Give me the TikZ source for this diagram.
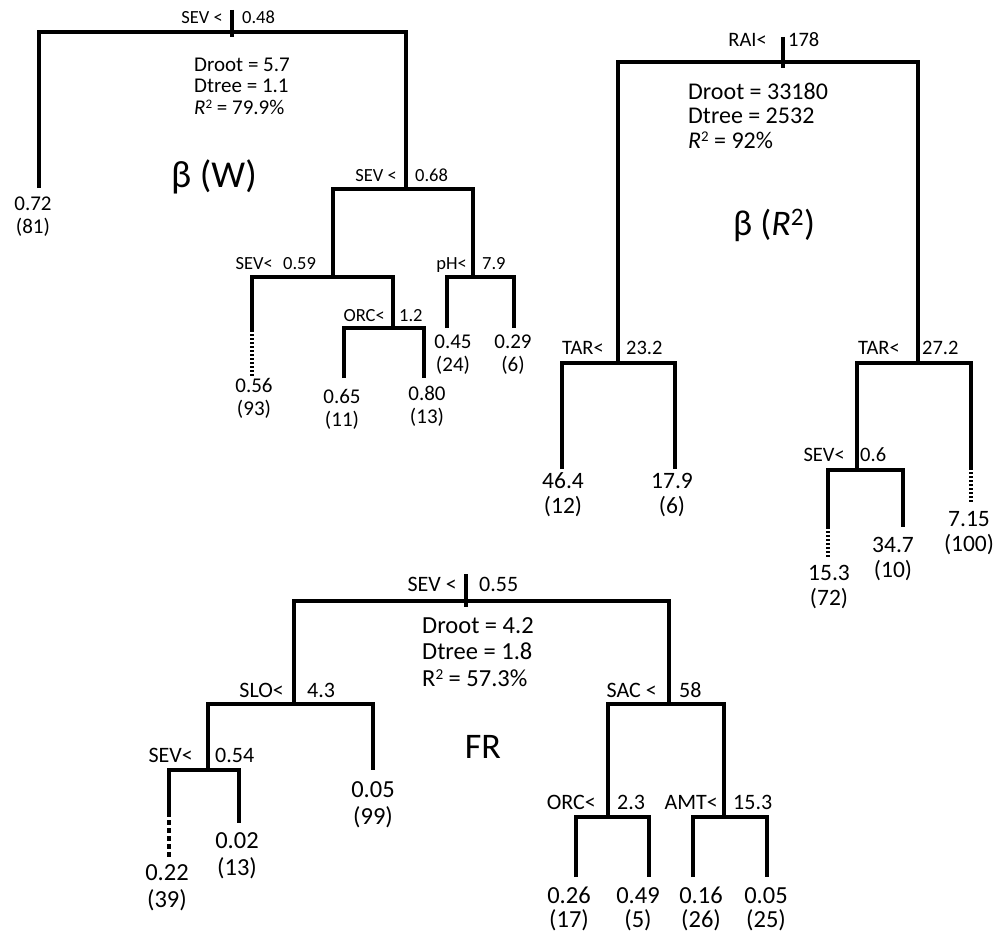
\documentclass[tikz,border=0pt]{standalone}
\usepackage{fontspec}
\setmainfont{Carlito}
\usetikzlibrary{positioning}
\newcommand{\lw}{3.1pt}
\newcommand{\sqd}{\raisebox{0.28em}{\scalebox{0.62}{2}}}

\begin{document}
\begin{tikzpicture}[
        x = 1pt, y = -1pt,
        every node/.style = {inner sep = 0},
        branch/.style = {line width = \lw},
        dotend/.style = {line width = \lw, dash pattern = on 2pt off 2pt},
        dashend/.style = {line width = \lw, dash pattern = on 5pt off 3pt},
        cutW/.style = {font = \fontsize{18.5}{18.5}\selectfont},
        cutR/.style = {font = \fontsize{20.5}{20.5}\selectfont},
        cutF/.style = {font = \fontsize{22}{22}\selectfont},
        leafW/.style = {align = center, anchor = base, yshift = -23.5pt, font = \fontsize{21}{23.5}\selectfont},
        leafR/.style = {align = center, anchor = base, yshift = -25pt, font = \fontsize{23.5}{25}\selectfont},
        leafF/.style = {align = center, anchor = base, yshift = -27pt, font = \fontsize{24.5}{27}\selectfont},
        leafFb/.style = {align = center, anchor = base, yshift = -24pt, font = \fontsize{24.5}{24}\selectfont},
        statW/.style = {align = left, anchor = base west, yshift = -43pt, font = \fontsize{21}{21.5}\selectfont},
        statR/.style = {align = left, anchor = base west, yshift = -49pt, font = \fontsize{24}{24.5}\selectfont},
        statF/.style = {align = left, anchor = base west, yshift = -53pt, font = \fontsize{24.5}{26.5}\selectfont},
        title/.style = {anchor = base west, font = \fontsize{38}{38}\selectfont}]

      \useasboundingbox (0,0) rectangle (997,934);

      %tree one, beta (W)
      \coordinate (BWTickTop) at (232,10);
      \coordinate (BWTickBot) at (232,37);
      \coordinate (BWRoot) at (232,32);
      \coordinate (BWSev2) at (406,189);
      \coordinate (BWSev3) at (333,277);
      \coordinate (BWOrc) at (393,328);
      \coordinate (BWPh) at (473,277);
      \coordinate (BWLeaf1) at (39,188);
      \coordinate (BWLeaf2) at (252,330);
      \coordinate (BWLeaf2Dot) at (252,377);
      \coordinate (BWLeaf3) at (344,378);
      \coordinate (BWLeaf4) at (424,378);
      \coordinate (BWLeaf5) at (447,328);
      \coordinate (BWLeaf6) at (514,328);

      \node[cutW, anchor = base east] (BWRootVar) at (223,24) {SEV <};
      \node[cutW, anchor = base west] (BWRootVal) at (242,24) {0.48};
      \node[cutW, anchor = base east] (BWSev2Var) at (397,181) {SEV <};
      \node[cutW, anchor = base west] (BWSev2Val) at (415,181) {0.68};
      \node[cutW, anchor = base east] (BWSev3Var) at (273,269) {SEV<};
      \node[cutW, anchor = base west] (BWSev3Val) at (283,269) {0.59};
      \node[cutW, anchor = base east] (BWOrcVar) at (385,321) {ORC<};
      \node[cutW, anchor = base west] (BWOrcVal) at (399,321) {1.2};
      \node[cutW, anchor = base east] (BWPhVar) at (467,269) {pH<};
      \node[cutW, anchor = base west] (BWPhVal) at (482,269) {7.9};

      \node[leafW] (BWLeaf1Txt) at (33,210) {0.72\\(81)};
      \node[leafW] (BWLeaf2Txt) at (254,392) {0.56\\(93)};
      \node[leafW] (BWLeaf3Txt) at (342,403) {0.65\\(11)};
      \node[leafW] (BWLeaf4Txt) at (427,400) {0.80\\(13)};
      \node[leafW] (BWLeaf5Txt) at (453,348) {0.45\\(24)};
      \node[leafW] (BWLeaf6Txt) at (513,348) {0.29\\(6)};

      \node[statW] (BWStats) at (194,71) {Droot = 5.7\\Dtree = 1.1\\{\itshape R}\sqd{} = 79.9\%};
      \node[title] (BWTitle) at (171,187) {β (W)};

      \draw[branch] (BWTickTop) -- (BWTickBot);
      \draw[branch] (BWLeaf1) |- (BWRoot) -| (BWSev2);
      \draw[branch] (BWSev3) |- (BWSev2) -| (BWPh);
      \draw[branch] (BWLeaf2) |- (BWSev3) -| (BWOrc);
      \draw[branch] (BWLeaf3) |- (BWOrc) -| (BWLeaf4);
      \draw[branch] (BWLeaf5) |- (BWPh) -| (BWLeaf6);
      \draw[dotend] (BWLeaf2) -- (BWLeaf2Dot);

      %tree two, beta (R2)
      \coordinate (BRTickTop) at (783,37);
      \coordinate (BRTickBot) at (783,68);
      \coordinate (BRRoot) at (783,62);
      \coordinate (BRTarL) at (618,363);
      \coordinate (BRTarR) at (918,363);
      \coordinate (BRSev) at (857,470);
      \coordinate (BRLeaf1) at (562,469);
      \coordinate (BRLeaf2) at (675,469);
      \coordinate (BRLeaf3) at (828,527);
      \coordinate (BRLeaf3Dot) at (828,558);
      \coordinate (BRLeaf4) at (903,527);
      \coordinate (BRLeaf5) at (971,468);
      \coordinate (BRLeaf5Dot) at (971,502);

      \node[cutR, anchor = base east] (BRRootVar) at (767,47) {RAI<};
      \node[cutR, anchor = base west] (BRRootVal) at (788,47) {178};
      \node[cutR, anchor = base east] (BRTarLVar) at (604,354) {TAR<};
      \node[cutR, anchor = base west] (BRTarLVal) at (626,354) {23.2};
      \node[cutR, anchor = base east] (BRTarRVar) at (900,354) {TAR<};
      \node[cutR, anchor = base west] (BRTarRVal) at (922,354) {27.2};
      \node[cutR, anchor = base east] (BRSevVar) at (845,461) {SEV<};
      \node[cutR, anchor = base west] (BRSevVal) at (860,461) {0.6};

      \node[leafR] (BRLeaf1Txt) at (563,488) {46.4\\(12)};
      \node[leafR] (BRLeaf2Txt) at (672,488) {17.9\\(6)};
      \node[leafR] (BRLeaf3Txt) at (829,580) {15.3\\(72)};
      \node[leafR] (BRLeaf4Txt) at (893,552) {34.7\\(10)};
      \node[leafR] (BRLeaf5Txt) at (969,526) {7.15\\(100)};

      \node[statR] (BRStats) at (688,99) {Droot = 33180\\Dtree = 2532\\{\itshape R}\sqd{} = 92\%};
      \node[title, font = \fontsize{36}{36}\selectfont] (BRTitle) at (733,235) {β ({\itshape R}\textsuperscript{2})};

      \draw[branch] (BRTickTop) -- (BRTickBot);
      \draw[branch] (BRTarL) |- (BRRoot) -| (BRTarR);
      \draw[branch] (BRLeaf1) |- (BRTarL) -| (BRLeaf2);
      \draw[branch] (BRSev) |- (BRTarR) -| (BRLeaf5);
      \draw[branch] (BRLeaf3) |- (BRSev) -| (BRLeaf4);
      \draw[dotend] (BRLeaf3) -- (BRLeaf3Dot);
      \draw[dotend] (BRLeaf5) -- (BRLeaf5Dot);

      %tree three, FR
      \coordinate (FRTickTop) at (466,574);
      \coordinate (FRTickBot) at (466,607);
      \coordinate (FRRoot) at (466,601);
      \coordinate (FRSlo) at (294,704);
      \coordinate (FRSac) at (669,704);
      \coordinate (FRSev) at (208,770);
      \coordinate (FROrc) at (608,817);
      \coordinate (FRAmt) at (724,817);
      \coordinate (FRLeaf1) at (169,812);
      \coordinate (FRLeaf1Dash) at (169,857);
      \coordinate (FRLeaf2) at (239,823);
      \coordinate (FRLeaf3) at (373,770);
      \coordinate (FRLeaf4) at (576,877);
      \coordinate (FRLeaf5) at (649,877);
      \coordinate (FRLeaf6) at (693,877);
      \coordinate (FRLeaf7) at (767,877);

      \node[cutF, anchor = base east] (FRRootVar) at (457,591) {SEV <};
      \node[cutF, anchor = base west] (FRRootVal) at (479,591) {0.55};
      \node[cutF, anchor = base east] (FRSloVar) at (284,697) {SLO<};
      \node[cutF, anchor = base west] (FRSloVal) at (307,697) {4.3};
      \node[cutF, anchor = base east] (FRSacVar) at (657,697) {SAC <};
      \node[cutF, anchor = base west] (FRSacVal) at (679,697) {58};
      \node[cutF, anchor = base east] (FRSevVar) at (193,762) {SEV<};
      \node[cutF, anchor = base west] (FRSevVal) at (215,762) {0.54};
      \node[cutF, anchor = base east] (FROrcVar) at (596,809) {ORC<};
      \node[cutF, anchor = base west] (FROrcVal) at (617,809) {2.3};
      \node[cutF, anchor = base east] (FRAmtVar) at (718,809) {AMT<};
      \node[cutF, anchor = base west] (FRAmtVal) at (733,809) {15.3};

      \node[leafF] (FRLeaf1Txt) at (167,880) {0.22\\(39)};
      \node[leafF] (FRLeaf2Txt) at (237,848) {0.02\\(13)};
      \node[leafF] (FRLeaf3Txt) at (373,797) {0.05\\(99)};
      \node[leafFb] (FRLeaf4Txt) at (569,903) {0.26\\(17)};
      \node[leafFb] (FRLeaf5Txt) at (638,903) {0.49\\(5)};
      \node[leafFb] (FRLeaf6Txt) at (701,903) {0.16\\(26)};
      \node[leafFb] (FRLeaf7Txt) at (766,903) {0.05\\(25)};

      \node[statF] (FRStats) at (422,633) {Droot = 4.2\\Dtree = 1.8\\R\sqd{} = 57.3\%};
      \node[title, anchor = base, font = \fontsize{36}{36}\selectfont] (FRTitle) at (483,758) {FR};

      \draw[branch] (FRTickTop) -- (FRTickBot);
      \draw[branch] (FRSlo) |- (FRRoot) -| (FRSac);
      \draw[branch] (FRSev) |- (FRSlo) -| (FRLeaf3);
      \draw[branch] (FRLeaf1) |- (FRSev) -| (FRLeaf2);
      \draw[branch] (FROrc) |- (FRSac) -| (FRAmt);
      \draw[branch] (FRLeaf4) |- (FROrc) -| (FRLeaf5);
      \draw[branch] (FRLeaf6) |- (FRAmt) -| (FRLeaf7);
      \draw[dashend] (FRLeaf1) -- (FRLeaf1Dash);
    \end{tikzpicture}
\end{document}
